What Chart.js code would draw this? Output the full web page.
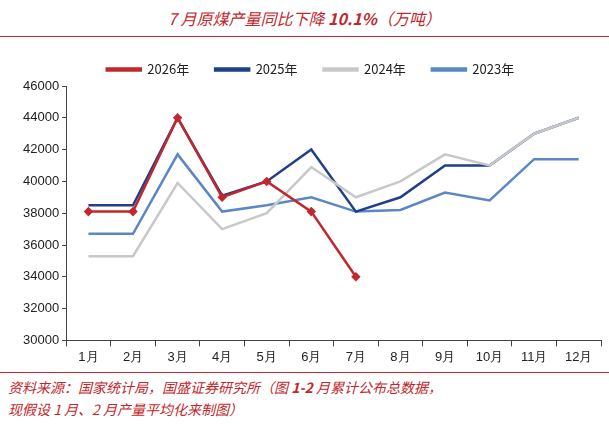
<!DOCTYPE html>
<html><head><meta charset="utf-8">
<script src="https://cdn.jsdelivr.net/npm/chart.js@4"></script>
<style>
body{margin:0;width:609px;height:434px;background:#fff;font-family:"Noto Sans CJK SC",sans-serif;overflow:hidden}
#title{height:36px;line-height:36px;text-align:center;color:#c0282d;font-style:italic;font-size:16px;border-bottom:1.5px solid #c0282d}
#wrap{position:relative;width:609px;height:335px}
#src{border-top:1.5px solid #c0282d;color:#c0282d;font-style:italic;font-size:14px;line-height:22px;padding:3px 0 0 8px}
</style></head><body>
<div id="title">7 月原煤产量同比下降 <b>10.1%</b>（万吨）</div>
<div id="wrap"><canvas id="c"></canvas></div>
<div id="src">资料来源：国家统计局，国盛证券研究所（图 <b>1-2</b> 月累计公布总数据，<br>现假设 1 月、2 月产量平均化来制图）</div>
<script>
var months = ["1月","2月","3月","4月","5月","6月","7月","8月","9月","10月","11月","12月"];
var y2026 = [38100,38100,44000,39000,40000,38100,34000,null,null,null,null,null];
var y2025 = [38500,38500,44000,39100,40000,42000,38100,39000,41000,41000,43000,44000];
var y2024 = [35300,35300,39900,37000,38000,40900,39000,40000,41700,41000,43000,44000];
var y2023 = [36700,36700,41700,38100,38500,39000,38100,38200,39300,38800,41400,41400];

function ds(label, data, color, order, marker){
    return {label:label, data:data, borderColor:color, backgroundColor:color, borderWidth:2.5,
        order:order, pointStyle:marker?'rectRot':false, pointRadius:marker?3:0, tension:0};
}
new Chart(document.getElementById("c").getContext('2d'), {
    type:"line",
    data:{labels:months, datasets:[
        ds("2026年", y2026, "#c0282d", 0, true),
        ds("2025年", y2025, "#1f3f8a", 2),
        ds("2024年", y2024, "#c8c8c8", 1),
        ds("2023年", y2023, "#5b87c4", 3)
    ]},
    options:{
        responsive:true, maintainAspectRatio:false, animation:false,
        layout:{padding:{left:20,right:8,top:0,bottom:4}},
        plugins:{
            legend:{labels:{boxWidth:34,boxHeight:2,color:"#222",font:{size:13,family:"Noto Sans CJK SC"},padding:26,
                sort:(a,b)=>a.datasetIndex-b.datasetIndex}},
            tooltip:{enabled:false}
        },
        scales:{
            x:{offset:true, grid:{drawOnChartArea:false, offset:true, tickLength:6, color:"#444"},
               border:{color:"#444"}, ticks:{color:"#222",font:{size:13}}},
            y:{min:30000, max:46000, ticks:{stepSize:2000,color:"#222",font:{size:13},callback:v=>String(v)},
               grid:{drawOnChartArea:false, tickLength:4, color:"#444"}, border:{color:"#444"}}
        }
    }
});
</script>
</body></html>
